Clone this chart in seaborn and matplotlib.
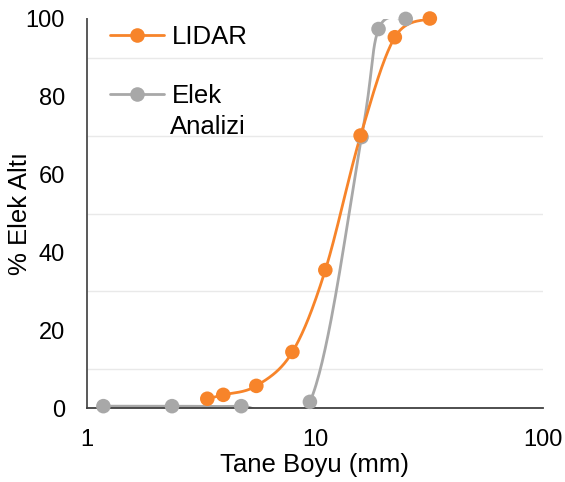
import numpy as np
import matplotlib
matplotlib.use("Agg")
import matplotlib.pyplot as plt
import seaborn as sns
from matplotlib.lines import Line2D

# Values.
lidar_size = [3.37, 3.96, 5.53, 7.96, 11.1, 15.85, 22.4, 31.9]
lidar_pass = [2.5, 3.5, 5.8, 14.5, 35.5, 70.0, 95.2, 100.0]

sieve_size = [1.18, 2.36, 4.75, 9.5, 16.0, 19.0, 25.0]
sieve_pass = [0.6, 0.6, 0.6, 1.7, 69.6, 97.3, 99.9]

x_ticks = [1, 10, 100]
y_ticks = [0, 20, 40, 60, 80, 100]
grid_y = [10, 30, 50, 70, 90]

orange = "#f7842a"
grey = "#a8a8a8"


def smooth(xs, ys, n=40):
    # Excel-style smoothed line, done in screen-like units (log x).
    px = np.log10(xs) * 228.0
    py = np.array(ys) * 3.9
    pts = np.column_stack([px, py])
    pts = np.vstack([pts[0], pts, pts[-1]])
    out = []
    t = np.linspace(0, 1, n)[:, None]
    for i in range(1, len(pts) - 2):
        p0, p1, p2, p3 = pts[i - 1], pts[i], pts[i + 1], pts[i + 2]
        b1 = p1 + (p2 - p0) / 6.0
        b2 = p2 - (p3 - p1) / 6.0
        seg = ((1 - t) ** 3) * p1 + 3 * ((1 - t) ** 2) * t * b1 + 3 * (1 - t) * t ** 2 * b2 + t ** 3 * p2
        out.append(seg)
    out = np.vstack(out)
    return 10 ** (out[:, 0] / 228.0), out[:, 1] / 3.9


sns.set_theme(style="white")
plt.rcParams["font.family"] = ["Liberation Sans", "DejaVu Sans"]
plt.rcParams["text.color"] = "black"
plt.rcParams["axes.labelcolor"] = "black"

fig, ax = plt.subplots(figsize=(5.65, 4.82), dpi=100)
fig.subplots_adjust(left=0.154, right=0.961, bottom=0.1525, top=0.9616)

for y in grid_y:
    ax.axhline(y, color="#e9e9e9", lw=1, zorder=0)

for xs, ys, col in [(sieve_size, sieve_pass, grey), (lidar_size, lidar_pass, orange)]:
    sx, sy = smooth(xs, ys)
    ax.plot(sx, sy, color=col, lw=2.0, zorder=2, solid_capstyle="round")
    sns.scatterplot(x=xs, y=ys, color=col, s=110, edgecolor="none", ax=ax,
                    zorder=3, clip_on=False)

ax.set_xscale("log")
ax.set_xlim(1, 100)
ax.set_ylim(0, 100)
ax.set_xticks(x_ticks)
ax.set_xticklabels([str(v) for v in x_ticks])
ax.set_yticks(y_ticks)
ax.minorticks_off()
ax.tick_params(axis="both", length=0, labelsize=17, colors="#000000")
ax.tick_params(axis="y", pad=16)
ax.tick_params(axis="x", pad=15)

for s in ["top", "right"]:
    ax.spines[s].set_visible(False)
ax.spines["left"].set_color("#595959")
ax.spines["left"].set_linewidth(1.4)
ax.spines["bottom"].set_color("#404040")
ax.spines["bottom"].set_linewidth(1.3)

ax.set_xlabel("Tane Boyu (mm)", fontsize=18.5, labelpad=1)
ax.set_ylabel("% Elek Altı", fontsize=18.5, labelpad=-5)

handles = [
    Line2D([], [], color=orange, lw=2.0, marker="o", markersize=10.5, markeredgewidth=0),
    Line2D([], [], color=grey, lw=2.0, marker="o", markersize=10.5, markeredgewidth=0),
]
leg = ax.legend(handles, ["LIDAR", "Elek"], loc="upper left",
                bbox_to_anchor=(0.0, 1.043), frameon=False, fontsize=18.5,
                handlelength=2.1, handletextpad=0.3, labelspacing=1.38)
# second line of the grey series label, under "Elek"
ax.text(0.182, 0.722, "Analizi", transform=ax.transAxes, fontsize=18.5,
        ha="left", va="center")

fig.savefig("out.png", dpi=100)
